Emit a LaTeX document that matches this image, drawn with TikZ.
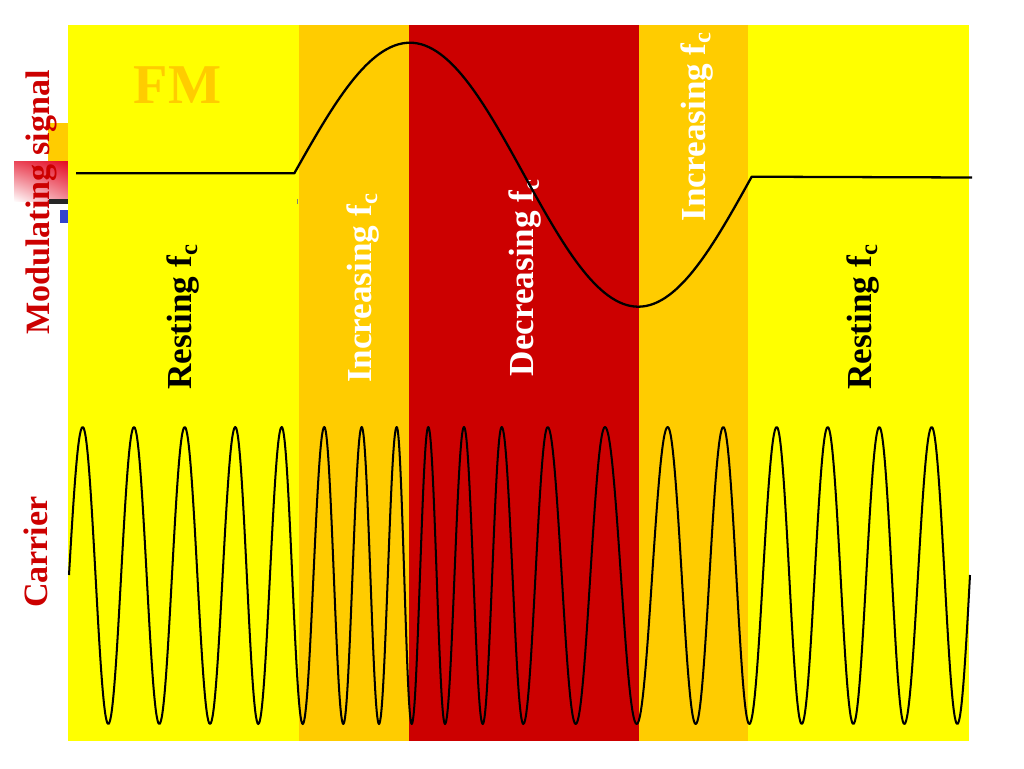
\documentclass[tikz,border=0pt]{standalone}
\usepackage{fontspec}
\setmainfont{Liberation Serif}
\usetikzlibrary{shadings}
\definecolor{yel}{HTML}{FFFF00}
\definecolor{org}{HTML}{FFCC00}
\definecolor{dred}{HTML}{CC0000}
\definecolor{gred}{RGB}{228,12,36}
\definecolor{tblue}{HTML}{3344CC}
\tikzset{
  band/.style={fill=#1, draw=none},
  vlabel/.style={font=\fontsize{20}{24}\selectfont\bfseries, rotate=90, anchor=base west, inner sep=0pt},
  siglabel/.style={vlabel, font=\fontsize{19.4}{24}\selectfont\bfseries, text=dred},
  wave/.style={draw=black, line width=1.15pt, line join=round},
  modwave/.style={draw=black, line width=1.3pt, line join=round}
}
\begin{document}
\begin{tikzpicture}[x=0.02cm, y=-0.02cm]
\useasboundingbox (0,0) rectangle (1024,768);
\fill[white] (0,0) rectangle (1024,768);
% template remnants at the left
\fill[org] (47.7,122.7) rectangle (68.3,161.7);
\shade[upper left=gred!75!white, upper right=gred, lower left=white, lower right=gred!45!white] (14,161.7) rectangle (68.3,201.7);
\fill[black!85] (49,199) rectangle (68.3,203.5);
\fill[tblue] (60,210) rectangle (68.3,222.7);
% frequency bands
\fill[band=yel] (68,25) rectangle (299,741);
\fill[band=org] (299,25) rectangle (409,741);
\fill[band=dred] (409,25) rectangle (639,741);
\fill[band=org] (639,25) rectangle (748,741);
\fill[band=yel] (748,25) rectangle (969,741);
\draw[black!50, line width=0.6pt] (297.5,199) -- (297.5,204);
% labels
\node[text=org, font=\fontsize{32}{36}\selectfont\bfseries, anchor=base, inner sep=0pt] (fm) at (177.5,103.3) {FM};
\node[siglabel] (modlbl) at (50,335) {Modulating signal};
\node[siglabel] (carlbl) at (47,608.3) {Carrier};
\node[vlabel, text=black] (rest1) at (191.7,390) {Resting f\textsubscript{c}};
\node[vlabel, text=white] (inc1) at (371.7,383.3) {Increasing f\textsubscript{c}};
\node[vlabel, text=white] (dec) at (533.3,376.7) {Decreasing f\textsubscript{c}};
\node[vlabel, text=white] (inc2) at (705,221.7) {Increasing f\textsubscript{c}};
\node[vlabel, text=black] (rest2) at (871.7,390) {Resting f\textsubscript{c}};
% modulating signal
\draw[modwave] (76,173.3) -- (294.3,173.3) sin (410,42.7) cos (524,174.7) sin (638.3,306.7) cos (751.7,176.7) -- (972,177.5);
% carrier (FM)
\draw[wave] (69,575)
  sin (82.7,427) cos (95.5,575) sin (108.3,724) cos (121.15,575)
  sin (134,427) cos (146.65,575) sin (159.3,724) cos (172,575)
  sin (184.7,427) cos (197.35,575) sin (210,724) cos (222.65,575)
  sin (235.3,427) cos (246.8,575) sin (258.3,724) cos (270,575)
  sin (281.7,427) cos (292.2,575) sin (302.7,724) cos (313.5,575)
  sin (324.3,427) cos (333.8,575) sin (343.3,724) cos (352.5,575)
  sin (361.7,427) cos (370.35,575) sin (379,724) cos (387.85,575)
  sin (396.7,427) cos (404.2,575) sin (411.7,724) cos (420,575)
  sin (428.3,427) cos (436.65,575) sin (445,724) cos (454.5,575)
  sin (464,427) cos (473.35,575) sin (482.7,724) cos (492.2,575)
  sin (501.7,427) cos (512.5,575) sin (523.3,724) cos (535.5,575)
  sin (547.7,427) cos (561.7,575) sin (575.7,724) cos (590.35,575)
  sin (605,427) cos (620.85,575) sin (636.7,724) cos (652.2,575)
  sin (667.7,427) cos (681.7,575) sin (695.7,724) cos (709.5,575)
  sin (723.3,427) cos (736.3,575) sin (749.3,724) cos (763,575)
  sin (776.7,427) cos (789.2,575) sin (801.7,724) cos (814.7,575)
  sin (827.7,427) cos (840.5,575) sin (853.3,724) cos (866.3,575)
  sin (879.3,427) cos (891.8,575) sin (904.3,724) cos (918,575)
  sin (931.7,427) cos (944.5,575) sin (957.3,724) cos (970,575);
\end{tikzpicture}
\end{document}
